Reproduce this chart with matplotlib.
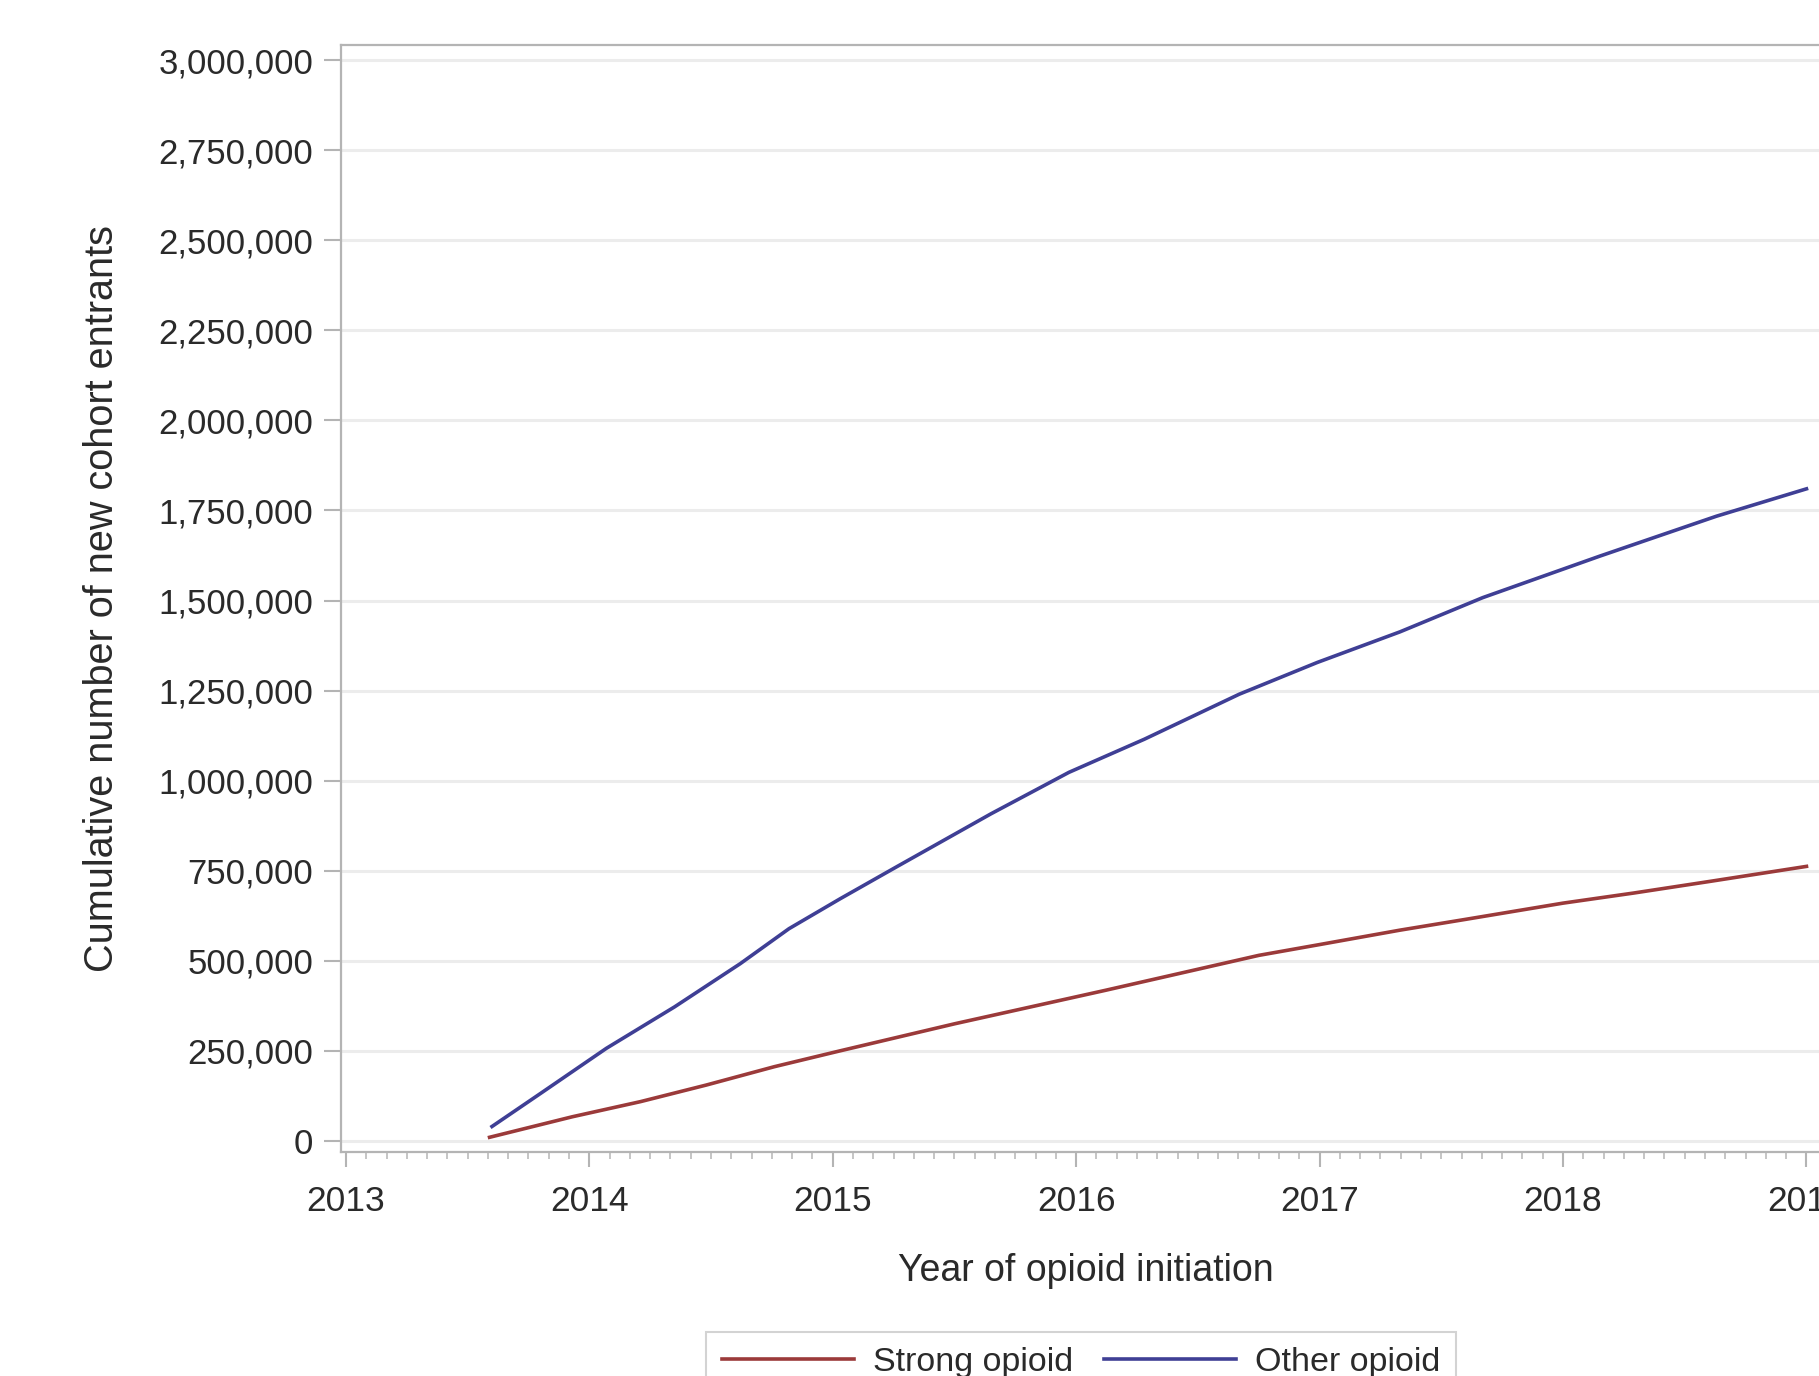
import matplotlib
matplotlib.use("Agg")
import matplotlib.pyplot as plt
from matplotlib.ticker import FuncFormatter, MultipleLocator

# values (year as decimal, count of entrants)
years_other = [2013.60, 2013.80, 2014.07, 2014.35, 2014.62, 2014.82, 2015.03,
               2015.26, 2015.65, 2015.97, 2016.28, 2016.67, 2016.99, 2017.33,
               2017.67, 2018.15, 2018.63, 2019.00]
other_opioid = [40000, 132000, 257000, 372000, 492000, 589000, 672000,
                760000, 908000, 1023000, 1115000, 1240000, 1328000, 1413000,
                1508000, 1623000, 1734000, 1810000]

years_strong = [2013.59, 2013.93, 2014.21, 2014.48, 2014.76, 2015.03, 2015.50,
                2016.12, 2016.75, 2017.00, 2017.33, 2017.60, 2018.00, 2018.29,
                2018.60, 2019.00]
strong_opioid = [10000, 67000, 109000, 155000, 206000, 250000, 325000,
                 418000, 515000, 545000, 585000, 615000, 660000, 688000,
                 720000, 762000]

year_ticks = [2013, 2014, 2015, 2016, 2017, 2018, 2019]

plt.rcParams['font.family'] = ['Liberation Sans', 'DejaVu Sans']

fig = plt.figure(figsize=(18.19, 13.76), dpi=100)
ax = fig.add_axes([0.1875, 0.163, 0.819, 0.8043])

red = '#9b3a3a'
blue = '#3f3f95'
ax.plot(years_strong, strong_opioid, color=red, lw=2.6, label='Strong opioid', zorder=3)
ax.plot(years_other, other_opioid, color=blue, lw=2.6, label='Other opioid', zorder=3)

ax.set_xlim(2012.98, 2019.1)
ax.set_ylim(-30000, 3042000)

# axis ticks
ax.set_xticks(year_ticks)
ax.xaxis.set_minor_locator(MultipleLocator(1 / 12))
ax.yaxis.set_major_locator(MultipleLocator(250000))
ax.yaxis.set_major_formatter(FuncFormatter(lambda v, p: f'{v:,.0f}'))

ax.grid(axis='y', color='#ececec', lw=2.2, zorder=0)
ax.set_axisbelow(True)

for s in ['left', 'bottom', 'top', 'right']:
    ax.spines[s].set_color('#b4b4b4')
    ax.spines[s].set_linewidth(1.6)

ax.tick_params(axis='y', which='major', length=12, width=1.5, color='#b4b4b4',
               pad=8, labelsize=25, labelcolor='#2a2a2a')
ax.tick_params(axis='x', which='major', length=11, width=1.5, color='#b4b4b4',
               pad=13, labelsize=25.5, labelcolor='#2a2a2a')
ax.tick_params(axis='x', which='minor', length=5, width=1.3, color='#c0c0c0')

ax.set_xlabel('Year of opioid initiation', fontsize=27, color='#2a2a2a', labelpad=25)
ax.set_ylabel('Cumulative number of new cohort entrants', fontsize=28.5,
              color='#2a2a2a', labelpad=27)

# legend sits at the bottom, partly cut by the figure edge
leg = fig.legend(loc='upper center', bbox_to_anchor=(1081 / 1819, 1 - 1332 / 1376),
                 ncol=2, frameon=True, fancybox=False, fontsize=24.5,
                 handlelength=3.9, handletextpad=0.55, columnspacing=0.9,
                 borderpad=0.45, borderaxespad=0)
leg.get_frame().set_edgecolor('#c8c8c8')
leg.get_frame().set_linewidth(1.5)
for t in leg.get_texts():
    t.set_color('#2a2a2a')

fig.savefig('out.png', dpi=100)
